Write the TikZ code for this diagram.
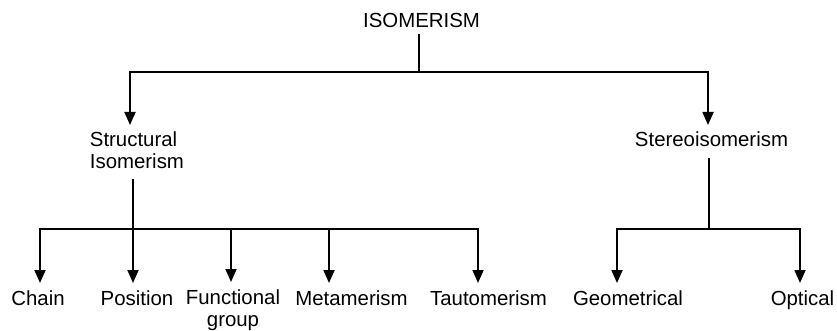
\documentclass[tikz,border=0pt]{standalone}
\usepackage{fontspec}
\setmainfont{Liberation Sans}
\usetikzlibrary{arrows.meta}

\begin{document}
\begin{tikzpicture}[x=1pt,y=-1pt,
    lbl/.style={font=\fontsize{20.4}{22}\selectfont, inner sep=0pt, anchor=base},
    arr/.style={-{Triangle[width=11pt,length=13pt]}},
    line width=1.8pt]
        % Dimensioni
        \def\tip{22pt}   % distanza punta freccia - linea di base
        \def\tipp{44pt}  % idem per nodi su due righe
        
        \useasboundingbox (0,0) rectangle (837,331);
        
        % Nodi
        \node[lbl] (isom) at (421.5,28) {ISOMERISM};
        \node[lbl, align=left, anchor=base west] (struct) at (89,169) {Structural\\Isomerism};
        \node[lbl] (stereo) at (711.5,147) {Stereoisomerism};
        \node[lbl] (chain) at (38,305) {Chain};
        \node[lbl] (pos) at (137,305) {Position};
        \node[lbl, align=center] (func) at (233,326) {Functional\\group};
        \node[lbl] (meta) at (351.5,305) {Metamerism};
        \node[lbl] (tauto) at (488.5,305) {Tautomerism};
        \node[lbl] (geo) at (628,305) {Geometrical};
        \node[lbl] (opt) at (802.5,305) {Optical};
        
        % Giunzioni
        \coordinate (topj) at (419,72);
        \coordinate (lowj) at (133,229);
        \coordinate (stj) at (709,229);
        
        % Primo livello
        \draw (isom.south -| topj) ++(0,5) -- (topj);
        \draw[arr] (topj) -| ([xshift=41pt,yshift=\tipp]struct.base west);
        \draw[arr] (topj) -| ([xshift=-3.5pt,yshift=\tip]stereo.base);
        
        % Isomeria strutturale
        \draw[arr] (struct.south -| lowj) ++(0,9) -- ([xshift=-4pt,yshift=\tip]pos.base);
        \draw[arr] (lowj) -| ([xshift=2pt,yshift=\tip]chain.base);
        \draw[arr] (lowj) -| ([xshift=-2pt,yshift=\tipp]func.base);
        \draw[arr] (lowj) -| ([xshift=-22.5pt,yshift=\tip]meta.base);
        \draw[arr] (lowj) -| ([xshift=-10.5pt,yshift=\tip]tauto.base);
        
        % Stereoisomeria
        \draw (stereo.south -| stj) ++(0,10) -- (stj);
        \draw[arr] (stj) -| ([xshift=-11pt,yshift=\tip]geo.base);
        \draw[arr] (stj) -| ([xshift=-2.5pt,yshift=\tip]opt.base);
    
    \end{tikzpicture}
\end{document}
